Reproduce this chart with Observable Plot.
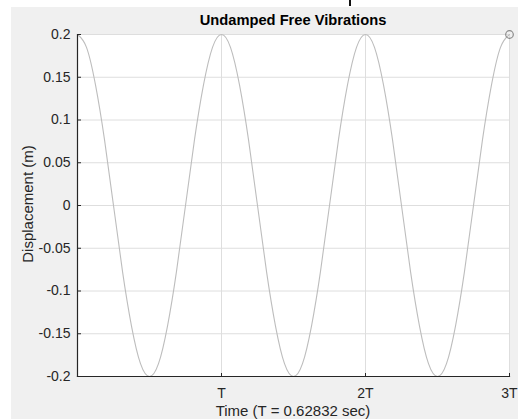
<!DOCTYPE html>
<html>
<head>
<meta charset="utf-8">
<script src="https://cdn.jsdelivr.net/npm/d3@7"></script>
<script src="https://cdn.jsdelivr.net/npm/@observablehq/plot@0.6"></script>
<style>
  html, body { margin: 0; padding: 0; background: #ffffff; }
  #wrap { position: relative; width: 518px; height: 419px; overflow: hidden; font-family: "Liberation Sans", Arial, Helvetica, sans-serif; }
  #bg { position: absolute; left: 11px; top: 7px; right: 0; bottom: 0; background: #f0f0f0; }
  #chart { position: absolute; left: 0; top: 0; }
  .lbl { position: absolute; color: #262626; white-space: nowrap; line-height: 1; }
  #title { left: 77px; width: 432px; top: 13px; text-align: center; font-weight: bold; font-size: 14.7px; color: #000; }
  #xlabel { left: 77px; width: 432px; top: 403px; text-align: center; font-size: 15px; }
  #ylabel { left: 27px; top: 204px; font-size: 15px; transform: translate(-50%, -50%) rotate(-90deg); }
  #stray { position: absolute; left: 349px; top: 0px; width: 1.5px; height: 6px; background: #111; }
</style>
</head>
<body>
<div id="wrap">
  <div id="bg"></div>
  <div id="chart"></div>
  <div id="stray"></div>
  <div class="lbl" id="title">Undamped Free Vibrations</div>
  <div class="lbl" id="ylabel">Displacement (m)</div>
  <div class="lbl" id="xlabel">Time (T = 0.62832 sec)</div>
</div>
<script>
// Time in units of the period T (T = 0.62832 s)
const timeT = [
  0, 0.0625, 0.125, 0.1875, 0.25, 0.3125, 0.375, 0.4375, 0.5, 0.5625, 0.625, 0.6875, 0.75, 0.8125, 0.875, 0.9375,
  1, 1.0625, 1.125, 1.1875, 1.25, 1.3125, 1.375, 1.4375, 1.5, 1.5625, 1.625, 1.6875, 1.75, 1.8125, 1.875, 1.9375,
  2, 2.0625, 2.125, 2.1875, 2.25, 2.3125, 2.375, 2.4375, 2.5, 2.5625, 2.625, 2.6875, 2.75, 2.8125, 2.875, 2.9375,
  3
];
// Displacement (m)
const displacement = [
  0.2, 0.185, 0.141, 0.077, 0, -0.077, -0.141, -0.185, -0.2, -0.185, -0.141, -0.077, 0, 0.077, 0.141, 0.185,
  0.2, 0.185, 0.141, 0.077, 0, -0.077, -0.141, -0.185, -0.2, -0.185, -0.141, -0.077, 0, 0.077, 0.141, 0.185,
  0.2, 0.185, 0.141, 0.077, 0, -0.077, -0.141, -0.185, -0.2, -0.185, -0.141, -0.077, 0, 0.077, 0.141, 0.185,
  0.2
];
const xTickValues = [1, 2, 3];
const xTickLabels = ["T", "2T", "3T"];
const yTickValues = [0.2, 0.15, 0.1, 0.05, 0, -0.05, -0.1, -0.15, -0.2];
const yTickLabels = ["0.2", "0.15", "0.1", "0.05", "0", "-0.05", "-0.1", "-0.15", "-0.2"];

const data = timeT.map((t, i) => ({t, d: displacement[i]}));
const last = [data[data.length - 1]];

const plot = Plot.plot({
  width: 518,
  height: 419,
  marginLeft: 77,
  marginRight: 9,
  marginTop: 34,
  marginBottom: 43,
  style: { background: "none", fontFamily: "'Liberation Sans', Arial, Helvetica, sans-serif", fontSize: "14px", color: "#262626" },
  x: { domain: [0, 3] },
  y: { domain: [-0.2, 0.2] },
  marks: [
    Plot.frame({ fill: "white", stroke: null }),
    Plot.gridX(xTickValues, { stroke: "#dedede", strokeOpacity: 1 }),
    Plot.gridY(yTickValues, { stroke: "#dedede", strokeOpacity: 1 }),
    Plot.line(data, { x: "t", y: "d", stroke: "#bdbdbd", strokeWidth: 1.1, curve: "natural" }),
    Plot.dot(last, { x: "t", y: "d", r: 3.8, stroke: "#8a8a8a", strokeWidth: 1.2, fill: "none" }),
    Plot.axisY(yTickValues, {
      tickSize: -4, tickPadding: 11, stroke: "#262626", fill: "#262626", fontSize: 14,
      tickFormat: (v) => yTickLabels[yTickValues.indexOf(v)], label: null
    }),
    Plot.axisX(xTickValues, {
      tickSize: -4, tickPadding: 15, dy: 1, stroke: "#262626", fill: "#262626", fontSize: 14,
      tickFormat: (v) => xTickLabels[xTickValues.indexOf(v)], label: null
    }),
    Plot.frame({ anchor: "left", stroke: "#262626", strokeWidth: 1.2 }),
    Plot.frame({ anchor: "bottom", stroke: "#262626", strokeWidth: 1.2 })
  ]
});
document.getElementById("chart").appendChild(plot);
</script>
</body>
</html>
